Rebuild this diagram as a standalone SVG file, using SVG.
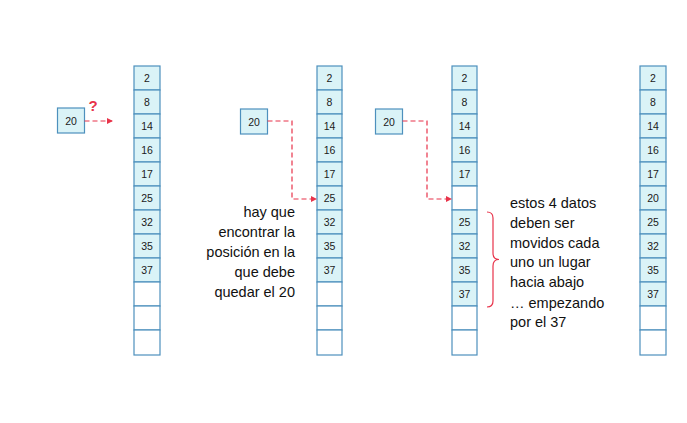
<svg xmlns="http://www.w3.org/2000/svg" width="687" height="423" viewBox="0 0 687 423">
<defs>
<style>
.c{fill:#daf3f7;stroke:#4d90bd;stroke-width:1.2}
.e{fill:#ffffff;stroke:#4d90bd;stroke-width:1.2}
.t{font-family:"Liberation Sans",Arial,sans-serif;font-size:10.5px;fill:#1a1a1a;text-anchor:middle}
.big{font-family:"Liberation Sans",Arial,sans-serif;font-size:14.5px;fill:#111}
.ar{fill:none;stroke:#e8334a;stroke-width:1.2;stroke-dasharray:5,3}
</style>
<marker id="ah" markerWidth="6" markerHeight="6" refX="5" refY="3" orient="auto" markerUnits="userSpaceOnUse">
<path d="M0,0 L6,3 L0,6 Z" fill="#e8334a"/>
</marker>
</defs>
<rect width="687" height="423" fill="#ffffff"/>

<g id="key1">
<rect class="c" x="57.5" y="108" width="27" height="25"/>
<text class="t" x="71" y="124.5">20</text>
</g>
<g id="key2">
<rect class="c" x="240.5" y="109" width="27" height="25"/>
<text class="t" x="254" y="125.5">20</text>
</g>
<g id="key3">
<rect class="c" x="375.5" y="109" width="27" height="25"/>
<text class="t" x="389" y="125.5">20</text>
</g>

<g id="col1">
<rect class="c" x="134" y="66" width="26" height="24"/><text class="t" x="147" y="82">2</text>
<rect class="c" x="134" y="90" width="26" height="24"/><text class="t" x="147" y="106">8</text>
<rect class="c" x="134" y="114" width="26" height="24"/><text class="t" x="147" y="130">14</text>
<rect class="c" x="134" y="138" width="26" height="24"/><text class="t" x="147" y="154">16</text>
<rect class="c" x="134" y="162" width="26" height="24"/><text class="t" x="147" y="178">17</text>
<rect class="c" x="134" y="186" width="26" height="24"/><text class="t" x="147" y="202">25</text>
<rect class="c" x="134" y="210" width="26" height="24"/><text class="t" x="147" y="226">32</text>
<rect class="c" x="134" y="234" width="26" height="24"/><text class="t" x="147" y="250">35</text>
<rect class="c" x="134" y="258" width="26" height="24"/><text class="t" x="147" y="274">37</text>
<rect class="e" x="134" y="282" width="26" height="24"/>
<rect class="e" x="134" y="306" width="26" height="24"/>
<rect class="e" x="134" y="330" width="26" height="25"/>
</g>

<g id="col2">
<rect class="c" x="317" y="66" width="25" height="24"/><text class="t" x="329.5" y="82">2</text>
<rect class="c" x="317" y="90" width="25" height="24"/><text class="t" x="329.5" y="106">8</text>
<rect class="c" x="317" y="114" width="25" height="24"/><text class="t" x="329.5" y="130">14</text>
<rect class="c" x="317" y="138" width="25" height="24"/><text class="t" x="329.5" y="154">16</text>
<rect class="c" x="317" y="162" width="25" height="24"/><text class="t" x="329.5" y="178">17</text>
<rect class="c" x="317" y="186" width="25" height="24"/><text class="t" x="329.5" y="202">25</text>
<rect class="c" x="317" y="210" width="25" height="24"/><text class="t" x="329.5" y="226">32</text>
<rect class="c" x="317" y="234" width="25" height="24"/><text class="t" x="329.5" y="250">35</text>
<rect class="c" x="317" y="258" width="25" height="24"/><text class="t" x="329.5" y="274">37</text>
<rect class="e" x="317" y="282" width="25" height="24"/>
<rect class="e" x="317" y="306" width="25" height="24"/>
<rect class="e" x="317" y="330" width="25" height="25"/>
</g>

<g id="col3">
<rect class="c" x="452" y="66" width="25" height="24"/><text class="t" x="464.5" y="82">2</text>
<rect class="c" x="452" y="90" width="25" height="24"/><text class="t" x="464.5" y="106">8</text>
<rect class="c" x="452" y="114" width="25" height="24"/><text class="t" x="464.5" y="130">14</text>
<rect class="c" x="452" y="138" width="25" height="24"/><text class="t" x="464.5" y="154">16</text>
<rect class="c" x="452" y="162" width="25" height="24"/><text class="t" x="464.5" y="178">17</text>
<rect class="e" x="452" y="186" width="25" height="24"/>
<rect class="c" x="452" y="210" width="25" height="24"/><text class="t" x="464.5" y="226">25</text>
<rect class="c" x="452" y="234" width="25" height="24"/><text class="t" x="464.5" y="250">32</text>
<rect class="c" x="452" y="258" width="25" height="24"/><text class="t" x="464.5" y="274">35</text>
<rect class="c" x="452" y="282" width="25" height="24"/><text class="t" x="464.5" y="298">37</text>
<rect class="e" x="452" y="306" width="25" height="24"/>
<rect class="e" x="452" y="330" width="25" height="25"/>
</g>

<g id="col4">
<rect class="c" x="640" y="66" width="26" height="24"/><text class="t" x="653" y="82">2</text>
<rect class="c" x="640" y="90" width="26" height="24"/><text class="t" x="653" y="106">8</text>
<rect class="c" x="640" y="114" width="26" height="24"/><text class="t" x="653" y="130">14</text>
<rect class="c" x="640" y="138" width="26" height="24"/><text class="t" x="653" y="154">16</text>
<rect class="c" x="640" y="162" width="26" height="24"/><text class="t" x="653" y="178">17</text>
<rect class="c" x="640" y="186" width="26" height="24"/><text class="t" x="653" y="202">20</text>
<rect class="c" x="640" y="210" width="26" height="24"/><text class="t" x="653" y="226">25</text>
<rect class="c" x="640" y="234" width="26" height="24"/><text class="t" x="653" y="250">32</text>
<rect class="c" x="640" y="258" width="26" height="24"/><text class="t" x="653" y="274">35</text>
<rect class="c" x="640" y="282" width="26" height="24"/><text class="t" x="653" y="298">37</text>
<rect class="e" x="640" y="306" width="26" height="24"/>
<rect class="e" x="640" y="330" width="26" height="25"/>
</g>

<g id="connectors">
<path class="ar" d="M84.5,121 L112,121" marker-end="url(#ah)"/>
<path class="ar" d="M267.5,121 L292,121 L292,199 L316,199" marker-end="url(#ah)"/>
<path class="ar" d="M402.5,121 L427,121 L427,199 L451,199" marker-end="url(#ah)"/>
<path d="M487,212 Q493,212 493,218 L493,253 Q493,259.5 499,259.5 Q493,259.5 493,266 L493,301 Q493,307 487,307" fill="none" stroke="#e8334a" stroke-width="1.2"/>
</g>

<text x="93" y="111" font-family="Liberation Sans,Arial,sans-serif" font-size="15" font-weight="bold" fill="#e8334a" text-anchor="middle">?</text>

<g id="label1">
<text class="big" x="295" y="217" text-anchor="end">hay que</text>
<text class="big" x="295" y="237" text-anchor="end">encontrar la</text>
<text class="big" x="295" y="257" text-anchor="end">posición en la</text>
<text class="big" x="295" y="277" text-anchor="end">que debe</text>
<text class="big" x="295" y="297" text-anchor="end">quedar el 20</text>
</g>

<g id="label2">
<text class="big" x="510" y="208">estos 4 datos</text>
<text class="big" x="510" y="228">deben ser</text>
<text class="big" x="510" y="248">movidos cada</text>
<text class="big" x="510" y="267">uno un lugar</text>
<text class="big" x="510" y="287">hacia abajo</text>
<text class="big" x="510" y="308">… empezando</text>
<text class="big" x="510" y="327">por el 37</text>
</g>
</svg>
